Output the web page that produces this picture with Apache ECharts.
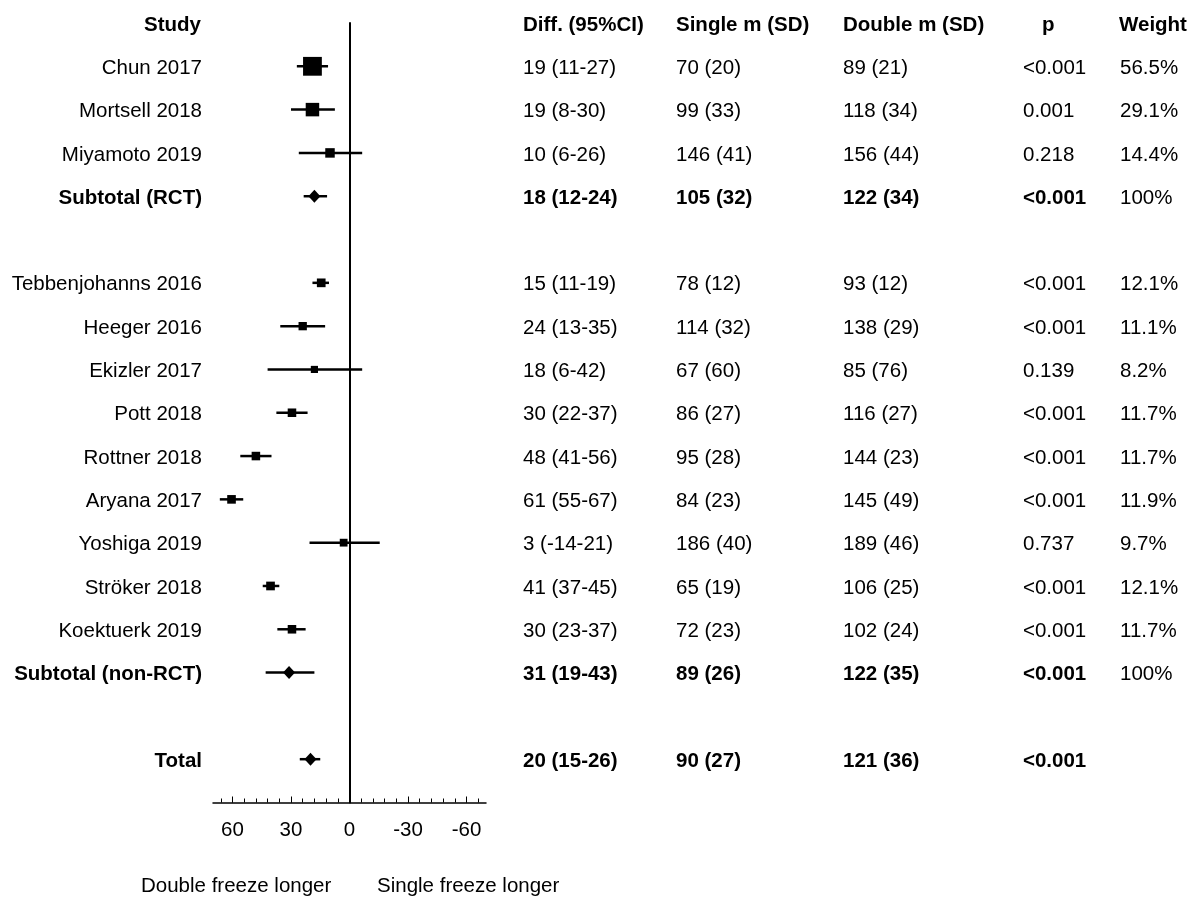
<!DOCTYPE html>
<html><head><meta charset="utf-8">
<script src="https://cdn.jsdelivr.net/npm/echarts@6/dist/echarts.min.js"></script>
<style>html,body{margin:0;padding:0;background:#fff}#c{width:1199px;height:900px}</style>
</head><body><div id="c"></div><script>
// ---------- DATA ----------
const headers = ['Study', 'Diff. (95%CI)', 'Single m (SD)', 'Double m (SD)', 'p', 'Weight'];
const rowLabels = ['Chun 2017', 'Mortsell 2018', 'Miyamoto 2019', 'Subtotal (RCT)', '',
  'Tebbenjohanns 2016', 'Heeger 2016', 'Ekizler 2017', 'Pott 2018', 'Rottner 2018', 'Aryana 2017',
  'Yoshiga 2019', 'Ströker 2018', 'Koektuerk 2019', 'Subtotal (non-RCT)', '', 'Total'];
const rowKind = ['study', 'study', 'study', 'subtotal', 'blank',
  'study', 'study', 'study', 'study', 'study', 'study', 'study', 'study', 'study', 'subtotal', 'blank', 'total'];
const diffText = ['19 (11-27)', '19 (8-30)', '10 (6-26)', '18 (12-24)', '',
  '15 (11-19)', '24 (13-35)', '18 (6-42)', '30 (22-37)', '48 (41-56)', '61 (55-67)',
  '3 (-14-21)', '41 (37-45)', '30 (23-37)', '31 (19-43)', '', '20 (15-26)'];
const singleText = ['70 (20)', '99 (33)', '146 (41)', '105 (32)', '',
  '78 (12)', '114 (32)', '67 (60)', '86 (27)', '95 (28)', '84 (23)',
  '186 (40)', '65 (19)', '72 (23)', '89 (26)', '', '90 (27)'];
const doubleText = ['89 (21)', '118 (34)', '156 (44)', '122 (34)', '',
  '93 (12)', '138 (29)', '85 (76)', '116 (27)', '144 (23)', '145 (49)',
  '189 (46)', '106 (25)', '102 (24)', '122 (35)', '', '121 (36)'];
const pText = ['<0.001', '0.001', '0.218', '<0.001', '',
  '<0.001', '<0.001', '0.139', '<0.001', '<0.001', '<0.001',
  '0.737', '<0.001', '<0.001', '<0.001', '', '<0.001'];
const weightText = ['56.5%', '29.1%', '14.4%', '100%', '',
  '12.1%', '11.1%', '8.2%', '11.7%', '11.7%', '11.9%',
  '9.7%', '12.1%', '11.7%', '100%', '', ''];
// plotted estimates and confidence limits (difference, double - single)
const estimate = [19, 19, 10, 18, null, 14.5, 24, 18, 29.5, 48, 60.5, 3, 40.5, 29.5, 31, null, 20];
const ciLow    = [11, 7.5, -6.5, 11.5, null, 10.5, 12.5, -6.5, 21.5, 40, 54.5, -15.5, 36, 22.5, 18, null, 15];
const ciHigh   = [27, 30, 26, 23.5, null, 19, 35.5, 42, 37.5, 56, 66.5, 20.5, 44.5, 37, 43, null, 25.5];
const majorTicks = [-60, -30, 0, 30, 60];
const minorTicks = [-66, -60, -54, -48, -42, -36, -30, -24, -18, -12, -6, 0, 6, 12, 18, 24, 30, 36, 42, 48, 54, 60, 66];
const footerLeft = 'Double freeze longer';
const footerRight = 'Single freeze longer';

// ---------- STYLE / LAYOUT ----------
const FONT = '"Liberation Sans", Arial, Helvetica, sans-serif';
const FS = 20.5;
const TEXT_DY = 2;
const colX = [202, 523, 676, 843, 1023, 1120];
const headerX = [201, 523, 676, 843, 1042, 1119];

const chart = echarts.init(document.getElementById('c'), null, { renderer: 'canvas' });

const ciData = [], squareData = [], diamondData = [];
rowKind.forEach((k, i) => {
  const row = i + 1;
  if (k === 'blank') return;
  ciData.push([ciLow[i], ciHigh[i], row]);
  if (k === 'study') {
    const w = parseFloat(weightText[i]);
    squareData.push({ value: [estimate[i], row], symbolSize: 2.5 * Math.sqrt(w) });
  } else {
    diamondData.push([estimate[i], row]);
  }
});
const textRows = [[0, 0]].concat(rowLabels.map((_, i) => [0, i + 1]));

const option = {
  animation: false,
  backgroundColor: '#fff',
  grid: { left: 213, width: 273, top: 23, height: 779.5, containLabel: false },
  xAxis: [{
    type: 'value', min: -70, max: 70, inverse: true, position: 'bottom',
    axisLine: { show: true, onZero: false, lineStyle: { color: '#000', width: 1.5 } },
    axisTick: { show: true, inside: true, length: 6, customValues: majorTicks, lineStyle: { color: '#000', width: 1 } },
    axisLabel: { show: true, customValues: majorTicks, margin: 17, fontSize: FS, color: '#000', fontFamily: FONT },
    splitLine: { show: false }
  }, {
    type: 'value', min: -70, max: 70, inverse: true, position: 'bottom', offset: 0,
    axisLine: { show: false, onZero: false },
    axisTick: { show: true, inside: true, length: 4, customValues: minorTicks, lineStyle: { color: '#000', width: 1 } },
    axisLabel: { show: false },
    splitLine: { show: false }
  }],
  yAxis: {
    type: 'value', min: 0, max: 18, inverse: true,
    axisLine: { show: true, onZero: true, onZeroAxisIndex: 0, lineStyle: { color: '#000', width: 2 } },
    axisTick: { show: false }, axisLabel: { show: false }, splitLine: { show: false }
  },
  series: [{
    type: 'custom', xAxisIndex: 0, data: ciData, encode: { x: [0, 1], y: 2 },
    renderItem: function (params, api) {
      const a = api.coord([api.value(0), api.value(2)]);
      const b = api.coord([api.value(1), api.value(2)]);
      return { type: 'line', shape: { x1: a[0], y1: a[1], x2: b[0], y2: b[1] },
        style: { stroke: '#000', lineWidth: 2.5 } };
    }
  }, {
    type: 'scatter', xAxisIndex: 0, symbol: 'rect', data: squareData,
    itemStyle: { color: '#000', opacity: 1 }, z: 3
  }, {
    type: 'scatter', xAxisIndex: 0, symbol: 'diamond', symbolSize: [12, 13], data: diamondData,
    itemStyle: { color: '#000', opacity: 1 }, z: 3
  }, {
    type: 'custom', xAxisIndex: 0, data: textRows, encode: { x: 0, y: 1 }, clip: false,
    renderItem: function (params, api) {
      const r = params.dataIndex;
      const y = api.coord([0, r])[1] + TEXT_DY;
      let texts, xs, boldFlags;
      if (r === 0) {
        texts = headers; xs = headerX; boldFlags = headers.map(() => true);
      } else {
        const i = r - 1;
        const bold = rowKind[i] === 'subtotal' || rowKind[i] === 'total';
        texts = [rowLabels[i], diffText[i], singleText[i], doubleText[i], pText[i], weightText[i]];
        xs = colX; boldFlags = [bold, bold, bold, bold, bold, false];
      }
      return {
        type: 'group',
        children: texts.map((t, k) => ({
          type: 'text',
          style: { text: t, x: xs[k], y: y, align: k === 0 ? 'right' : 'left', verticalAlign: 'middle',
            fontSize: FS, fontWeight: boldFlags[k] ? 'bold' : 'normal', fontFamily: FONT, fill: '#000' }
        }))
      };
    }
  }],
  graphic: [
    { type: 'text', left: 141, top: 876, style: { text: footerLeft, fontSize: FS, fontFamily: FONT, fill: '#000' } },
    { type: 'text', left: 377, top: 876, style: { text: footerRight, fontSize: FS, fontFamily: FONT, fill: '#000' } }
  ]
};
chart.setOption(option);
</script></body></html>
